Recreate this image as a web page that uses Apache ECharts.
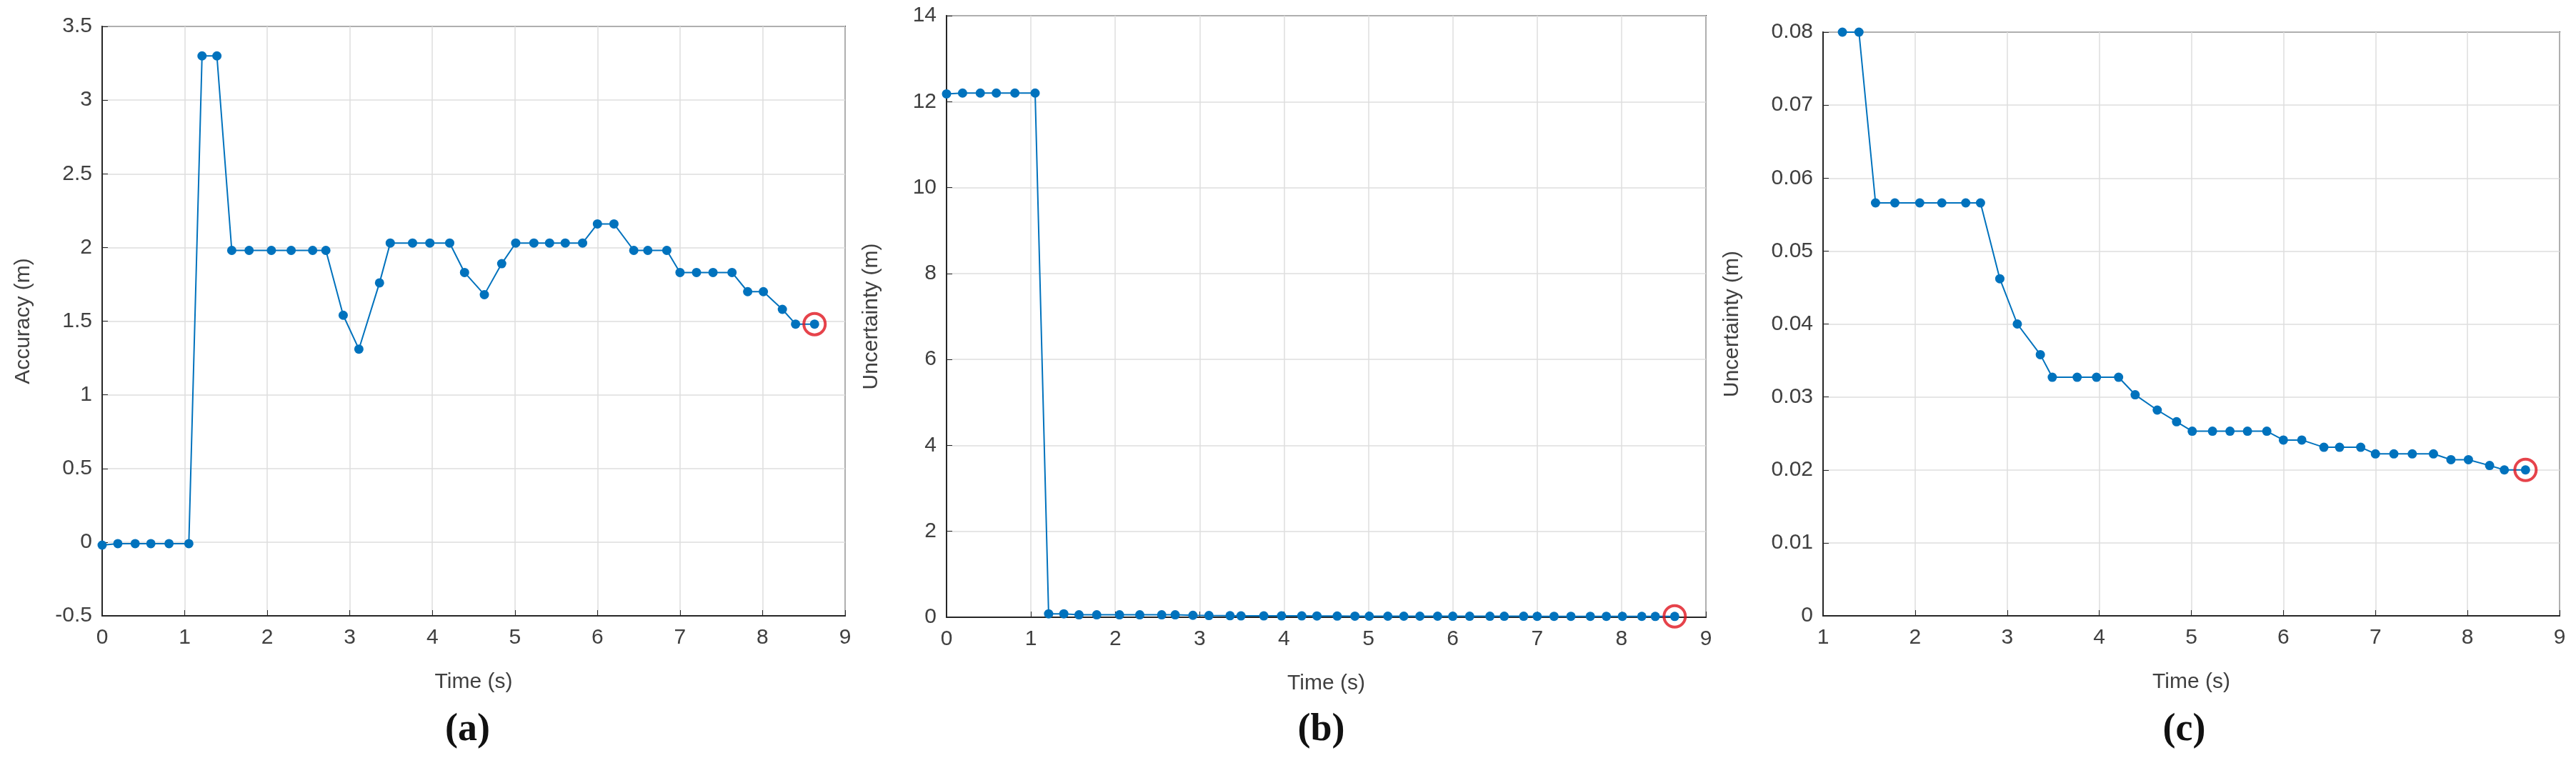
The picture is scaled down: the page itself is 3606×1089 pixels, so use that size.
<!DOCTYPE html>
<html><head><meta charset="utf-8">
<script src="https://cdn.jsdelivr.net/npm/echarts@6/dist/echarts.min.js"></script>
<style>html,body{margin:0;padding:0;background:#fff}#c{width:3606px;height:1089px}</style>
</head><body><div id="c"></div>
<script>
const timeA = [0,0.19,0.40,0.59,0.81,1.05,1.21,1.39,1.57,1.78,2.05,2.29,2.55,2.71,2.92,3.11,3.36,3.49,3.76,3.97,4.21,4.39,4.63,4.84,5.01,5.23,5.42,5.61,5.82,6.00,6.20,6.44,6.61,6.84,7.00,7.20,7.40,7.63,7.82,8.01,8.24,8.40,8.63];
const accuracy = [-0.02,-0.01,-0.01,-0.01,-0.01,-0.01,3.3,3.3,1.98,1.98,1.98,1.98,1.98,1.98,1.54,1.31,1.76,2.03,2.03,2.03,2.03,1.83,1.68,1.89,2.03,2.03,2.03,2.03,2.03,2.16,2.16,1.98,1.98,1.98,1.83,1.83,1.83,1.83,1.70,1.70,1.58,1.48,1.48];
const uncertStart = [12.18,12.2,12.2,12.2,12.2,12.2];
const uncertainty = [0.08,0.08,0.0566,0.0566,0.0566,0.0566,0.0566,0.0566,0.0462,0.040,0.0358,0.0327,0.0327,0.0327,0.0327,0.0303,0.0282,0.0266,0.0253,0.0253,0.0253,0.0253,0.0253,0.0241,0.0241,0.0231,0.0231,0.0231,0.0222,0.0222,0.0222,0.0222,0.0214,0.0214,0.0206,0.0200,0.0200];
const panelLabels = ['(a)','(b)','(c)'];

const timeC = timeA.slice(6);
const uncertB = uncertStart.concat(uncertainty);
const pairs = (xs, ys) => xs.map((x,i)=>[x,ys[i]]);
const blue = '#0072BD', txt = '#404040';
const font = "'Liberation Sans', Arial, sans-serif";
const grids = [
  {left:143, width:1040, top:37, height:825},
  {left:1325, width:1063, top:22, height:842},
  {left:2552, width:1031, top:45, height:817}
];
function xAx(i,min){return {type:'value',gridIndex:i,min:min,max:9,interval:1,name:'Time (s)',nameLocation:'middle',nameGap:78,
  nameTextStyle:{fontSize:30,color:txt,fontFamily:font},
  axisLine:{show:true,onZero:false,lineStyle:{color:'#262626',width:2}},axisTick:{inside:true,length:8,lineStyle:{color:'#262626'}},
  axisLabel:{fontSize:30,color:txt,fontFamily:font,margin:16},splitLine:{show:true,lineStyle:{color:'#dedede',width:1.5}}};}
function yAx(i,min,max,int,name,fmt){return {type:'value',gridIndex:i,min:min,max:max,interval:int,name:name,nameLocation:'middle',nameGap:i==0?95:(i==1?90:112),
  nameTextStyle:{fontSize:30,color:txt,fontFamily:font},
  axisLine:{show:true,onZero:false,lineStyle:{color:'#262626',width:2}},axisTick:{inside:true,length:8,lineStyle:{color:'#262626'}},
  axisLabel:{fontSize:30,color:txt,fontFamily:font,margin:14,formatter:fmt},splitLine:{show:true,lineStyle:{color:'#dedede',width:1.5}}};}
function line(i,data){return {type:'line',xAxisIndex:i,yAxisIndex:i,data:data,symbol:'circle',symbolSize:13,
  lineStyle:{color:blue,width:2},itemStyle:{color:blue},animation:false};}
function ring(i,pt){return {type:'scatter',xAxisIndex:i,yAxisIndex:i,data:[pt],symbol:'circle',symbolSize:30,
  itemStyle:{color:'transparent',borderColor:'#e0141e',borderWidth:4},z:5,animation:false};}
const dA = pairs(timeA,accuracy), dB = pairs(timeA,uncertB), dC = pairs(timeC,uncertainty);
const chart = echarts.init(document.getElementById('c'));
chart.setOption({
  animation:false,
  grid: grids.map(g=>Object.assign({show:true,borderColor:'#262626',borderWidth:2,backgroundColor:'#fff'},g)),
  xAxis:[xAx(0,0),xAx(1,0),xAx(2,1)],
  yAxis:[yAx(0,-0.5,3.5,0.5,'Accuracy (m)',v=>String(+v.toFixed(1))),
         yAx(1,0,14,2,'Uncertainty (m)',v=>String(v)),
         yAx(2,0,0.08,0.01,'Uncertainty (m)',v=>v===0?'0':v.toFixed(2))],
  series:[line(0,dA),ring(0,dA[dA.length-1]),line(1,dB),ring(1,dB[dB.length-1]),line(2,dC),ring(2,dC[dC.length-1])],
  graphic: panelLabels.map((t,i)=>({type:'text',left:grids[i].left+grids[i].width/2-40,top:995,
    style:{text:t,font:"bold 54px 'Liberation Serif', 'DejaVu Serif', serif",fill:'#111'}}))
});
</script></body></html>
